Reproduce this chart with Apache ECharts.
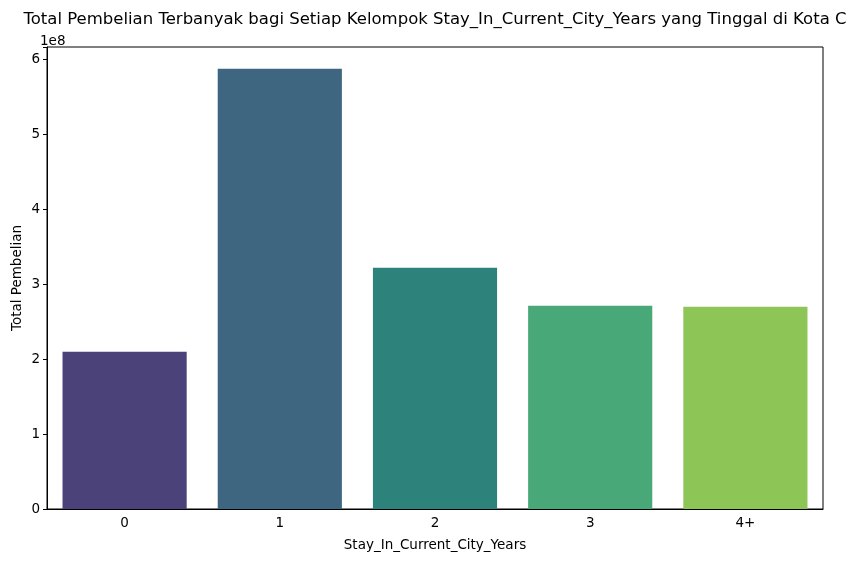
<!DOCTYPE html>
<html><head><meta charset="utf-8">
<script src="https://cdn.jsdelivr.net/npm/echarts@6/dist/echarts.min.js"></script>
<style>html,body{margin:0;padding:0;background:#fff}#c{width:859px;height:562px}</style>
</head><body><div id="c"></div>
<script>
const categories = ['0','1','2','3','4+'];
const totals = [2.097e8, 5.87e8, 3.217e8, 2.711e8, 2.697e8];
const barColors = ['#4b4279','#3e6680','#2e827c','#48a878','#8dc557'];
const yTicks = [0,1,2,3,4,5,6];
const chart = echarts.init(document.getElementById('c'));
const F = 'DejaVu Sans';
chart.setOption({
  animation:false,
  backgroundColor:'#fff',
  title:{text:'Total Pembelian Terbanyak bagi Setiap Kelompok Stay_In_Current_City_Years yang Tinggal di Kota C',
    left:430, top:6, textAlign:'center',
    textStyle:{fontFamily:F,fontSize:16.5,fontWeight:'normal',color:'#000'}},
  graphic:[
    {type:'text',left:40,top:34,style:{text:'1e8',fontFamily:F,fontSize:13.5,fill:'#000'}},
    {type:'text',x:17,y:278,rotation:Math.PI/2,style:{text:'Total Pembelian',fontFamily:F,fontSize:13.5,fill:'#000',align:'center',verticalAlign:'middle'}}
  ],
  grid:{left:47,right:36,top:47,bottom:53,outerBoundsMode:'none',containLabel:false,show:true,borderColor:'#000',borderWidth:1,backgroundColor:'transparent'},
  xAxis:{type:'category',data:categories,
    name:'Stay_In_Current_City_Years',nameLocation:'middle',nameGap:29,
    nameTextStyle:{fontFamily:F,fontSize:13.5,color:'#000'},
    axisLine:{lineStyle:{color:'#000',width:1}},
    axisTick:{alignWithLabel:true,length:4,lineStyle:{color:'#000'}},
    axisLabel:{fontFamily:F,fontSize:13.5,color:'#000',margin:7}},
  yAxis:{type:'value',min:0,max:6.16e8,interval:1e8,
    axisLine:{show:true,lineStyle:{color:'#000',width:1}},
    axisTick:{show:true,length:4,lineStyle:{color:'#000'}},
    splitLine:{show:false},
    axisLabel:{fontFamily:F,fontSize:13.5,color:'#000',margin:7,
      formatter:v=>{const t=v/1e8;return yTicks.includes(Math.round(t*1000)/1000)?String(Math.round(t)):'';}}},
  series:[{type:'bar',barCategoryGap:'20%',
    data:totals.map((v,i)=>({value:v,itemStyle:{color:barColors[i]}}))}]
});
</script></body></html>
